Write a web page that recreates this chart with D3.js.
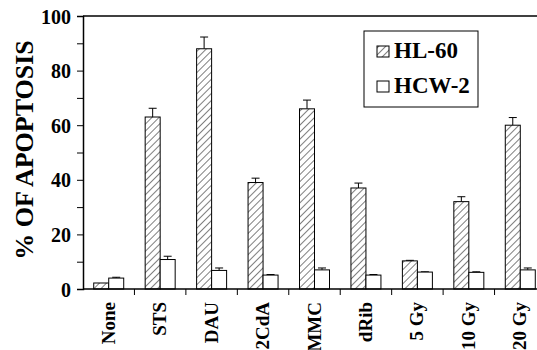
<!DOCTYPE html>
<html>
<head>
<style>
  html, body { margin: 0; padding: 0; background: #fff; }
</style>
</head>
<body>
<svg id="chart" width="537" height="350"></svg>
<script src="https://cdn.jsdelivr.net/npm/d3@7"></script>
<script>
// values
var categories = ["None", "STS", "DAU", "2CdA", "MMC", "dRib", "5 Gy", "10 Gy", "20 Gy"];
var hl60 = [2.2, 63, 88, 39, 66, 37, 10.3, 32, 60];
var hl60Err = [0, 3.2, 4.3, 1.6, 3.2, 1.8, 0.2, 1.8, 2.8];
var hcw2 = [4, 10.8, 6.8, 5.1, 7, 5.1, 6.2, 6.1, 7];
var hcw2Err = [0.3, 1.2, 0.9, 0.2, 0.7, 0.2, 0.1, 0.2, 0.7];
var yTicks = [0, 20, 40, 60, 80, 100];

var serif = "'Liberation Serif'";

var svg = d3.select("#chart");
var plotL = 83, plotT = 16, plotB = 289, plotR = 546;

var x = d3.scaleBand().domain(categories).range([plotL, plotR]);
var y = d3.scaleLinear().domain([0, 100]).range([plotB, plotT]);
var barW = 15;

// hatch pattern
var defs = svg.append("defs");
var pat = defs.append("pattern")
    .attr("id", "hatch")
    .attr("patternUnits", "userSpaceOnUse")
    .attr("width", 5).attr("height", 5)
    .attr("patternTransform", "rotate(45)");
pat.append("rect").attr("width", 5).attr("height", 5).attr("fill", "#fff");
pat.append("line").attr("x1", 0).attr("y1", 0).attr("x2", 0).attr("y2", 5)
    .attr("stroke", "#000").attr("stroke-width", 1);

// bars
var series = [
  { vals: hl60, err: hl60Err, fill: "url(#hatch)", off: -barW },
  { vals: hcw2, err: hcw2Err, fill: "#fff", off: 0 }
];
series.forEach(function(s) {
  var g = svg.append("g");
  categories.forEach(function(c, i) {
    var bx = x(c) + x.bandwidth() / 2 + s.off;
    if (s.err[i] > 0) {
      var ey = y(s.vals[i] + s.err[i]);
      g.append("line").attr("x1", bx + barW / 2).attr("x2", bx + barW / 2)
        .attr("y1", y(s.vals[i])).attr("y2", ey).attr("stroke", "#000");
      g.append("line").attr("x1", bx + barW / 2 - 4).attr("x2", bx + barW / 2 + 4)
        .attr("y1", ey).attr("y2", ey).attr("stroke", "#000");
    }
    g.append("rect")
      .attr("x", bx).attr("width", barW)
      .attr("y", y(s.vals[i])).attr("height", plotB - y(s.vals[i]))
      .attr("fill", s.fill).attr("stroke", "#000").attr("stroke-width", 1);
  });
});

// y axis
var yAxis = d3.axisLeft(y).tickValues(d3.range(0, 101, 10)).tickSize(6)
    .tickFormat(function(d) { return yTicks.indexOf(d) >= 0 ? d : ""; });
var ya = svg.append("g").attr("transform", "translate(" + plotL + ",0)").call(yAxis);
ya.select(".domain").attr("stroke-width", 1.5);
ya.selectAll("text")
  .style("font-family", serif).style("font-weight", "bold").style("font-size", "20px")
  .attr("fill", "#000").attr("x", -12).attr("dy", "0.35em");

// top frame line
svg.append("line").attr("x1", plotL).attr("x2", 537).attr("y1", plotT).attr("y2", plotT)
  .attr("stroke", "#000").attr("stroke-width", 1.5);

// x axis
svg.append("line").attr("x1", plotL).attr("x2", 537).attr("y1", plotB).attr("y2", plotB)
  .attr("stroke", "#000").attr("stroke-width", 1.5);
categories.forEach(function(c, i) {
  if (i > 0) {
    svg.append("line").attr("x1", x(c)).attr("x2", x(c)).attr("y1", plotB).attr("y2", plotB + 6)
      .attr("stroke", "#000");
  }
  svg.append("text")
    .attr("transform", "translate(" + (x(c) + x.bandwidth() / 2 + 6) + "," + (plotB + 13) + ") rotate(-90)")
    .attr("text-anchor", "end")
    .style("font-family", serif).style("font-weight", "bold")
    .style("font-size", "19px")
    .text(c);
});

// y label
svg.append("text")
  .attr("transform", "translate(33,150) rotate(-90)")
  .attr("text-anchor", "middle")
  .style("font-family", serif).style("font-weight", "bold")
  .style("font-size", "26px")
  .text("% OF APOPTOSIS");

// legend
var lg = svg.append("g");
lg.append("rect").attr("x", 364).attr("y", 31).attr("width", 114).attr("height", 76)
  .attr("fill", "#fff").attr("stroke", "#000");
var legendItems = [["HL-60", "url(#hatch)"], ["HCW-2", "#fff"]];
legendItems.forEach(function(d, i) {
  var yy = 46 + i * 35;
  lg.append("rect").attr("x", 377).attr("y", yy).attr("width", 12).attr("height", 11)
    .attr("fill", d[1]).attr("stroke", "#000");
  lg.append("text").attr("x", 394).attr("y", yy + 12)
    .style("font-family", serif).style("font-weight", "bold")
    .style("font-size", "23px").text(d[0]);
});
</script>
</body>
</html>
